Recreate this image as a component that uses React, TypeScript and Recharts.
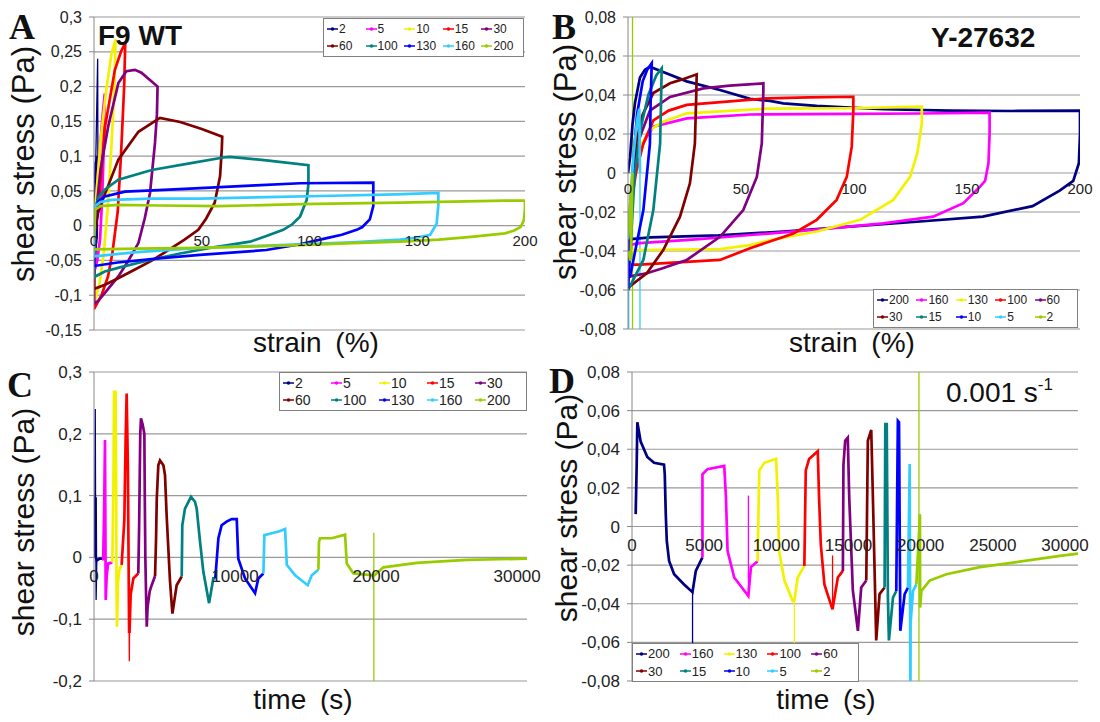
import React from 'react';
import { LineChart, Line, XAxis, YAxis, CartesianGrid, ReferenceDot, Legend } from 'recharts';

type P = [number, number][];

const FONT = '"Liberation Sans", Arial, sans-serif';
const SERIF = '"Liberation Serif", "Times New Roman", serif';

// ---------- Panel A (F9 WT, stress vs strain) ----------
const A_LABELS = ['2', '5', '10', '15', '30', '60', '100', '130', '160', '200'];
const A_COLORS = ['#000080', '#ff00ff', '#f2f200', '#ff0000', '#800080', '#800000', '#008080', '#0000ff', '#33ccff', '#99cc00'];
const A_YTICKS = [-0.15, -0.1, -0.05, 0, 0.05, 0.1, 0.15, 0.2, 0.25, 0.3];
const A_XTICKS = [0, 50, 100, 150, 200];
const A_S2: P = [[0, -0.002], [0.8, 0.09], [1.8, 0.1], [1.2, -0.02], [0, -0.003]];
const A_S5: P = [[0, -0.005], [1.5, 0.06], [3, 0.12], [4.2, 0.165], [5, 0.19], [4.6, 0.12], [3.8, 0.04], [2.8, -0.02], [1.5, -0.05], [0, -0.068], [0, -0.008]];
const A_S10: P = [[0, -0.008], [1, 0.04], [3, 0.12], [5.5, 0.19], [8, 0.245], [10, 0.268], [9.5, 0.2], [8.2, 0.12], [6.5, 0.03], [4.5, -0.04], [2.5, -0.085], [0, -0.112], [0, -0.012]];
const A_S15: P = [[0, -0.012], [2, 0.023], [5, 0.14], [9.7, 0.224], [12.5, 0.25], [14.5, 0.263], [14, 0.2], [12.5, 0.1], [11, 0.02], [8.5, -0.04], [6.5, -0.073], [3.5, -0.1], [0, -0.12], [0, -0.026]];
const A_S30: P = [[0, -0.026], [0.5, 0.004], [3, 0.08], [6.6, 0.143], [11.3, 0.205], [15, 0.222], [19, 0.224], [22, 0.22], [29.5, 0.2], [29.2, 0.16], [28.3, 0.119], [26, 0.047], [23.5, 0.01], [20.6, -0.025], [16, -0.05], [11.3, -0.073], [6, -0.093], [2, -0.108], [0, -0.112], [0, -0.03]];
const A_S60: P = [[0, -0.03], [0.5, -0.005], [2, 0.02], [5, 0.045], [11.3, 0.095], [20.6, 0.135], [30.6, 0.155], [40, 0.149], [50, 0.139], [59.5, 0.128], [59.3, 0.11], [58.5, 0.071], [56, 0.033], [52, 0.01], [48.4, -0.006], [42, -0.02], [34.5, -0.035], [27, -0.05], [19, -0.063], [11, -0.076], [5.1, -0.085], [0, -0.091], [0, -0.031]];
const A_S100: P = [[0, -0.031], [0.5, 0.023], [2, 0.04], [5.1, 0.052], [11.3, 0.066], [26.8, 0.08], [45, 0.09], [60, 0.098], [63, 0.099], [80, 0.094], [99.5, 0.087], [99.5, 0.06], [98.7, 0.037], [95.6, 0.013], [92, 0.002], [87.8, -0.006], [80, -0.015], [72.4, -0.023], [60, -0.029], [53.8, -0.032], [40, -0.04], [25, -0.05], [12, -0.06], [5, -0.066], [0, -0.074], [0, -0.034]];
const A_S130: P = [[0, -0.034], [0.5, 0.02], [2, 0.035], [5, 0.042], [14.4, 0.049], [30, 0.051], [49.2, 0.054], [75, 0.058], [95.6, 0.061], [129.6, 0.062], [129.6, 0.028], [128, 0.009], [124.5, -0.002], [121.9, -0.006], [115, -0.013], [108, -0.018], [95, -0.027], [80, -0.035], [49.2, -0.042], [30, -0.047], [11, -0.053], [0, -0.058], [0, -0.026]];
const A_S160: P = [[0, -0.026], [0.5, 0.028], [3, 0.034], [8.2, 0.037], [26.8, 0.039], [49.2, 0.039], [80, 0.041], [111, 0.043], [140, 0.045], [159.8, 0.047], [159.8, 0.03], [159, 0.003], [156, -0.013], [150, -0.017], [142, -0.02], [120, -0.024], [95.6, -0.027], [49, -0.032], [20, -0.038], [0, -0.044], [0, -0.02]];
const A_S200: P = [[0, -0.02], [0.5, 0.023], [3, 0.028], [11.3, 0.03], [30, 0.029], [57.7, 0.028], [95.6, 0.031], [142, 0.033], [190.7, 0.036], [200, 0.036], [200, 0.025], [199.5, 0.008], [198, -0.002], [195, -0.007], [190.7, -0.011], [175, -0.016], [160, -0.02], [142, -0.023], [120, -0.025], [95.6, -0.028], [49, -0.032], [20, -0.033], [0, -0.034]];
// sparse (thin) stretches of series "2"
const A_T2A: P = [[0.8, 0.09], [1.7, 0.24], [1.8, 0.1]];
const A_T2B: P = [[1.2, -0.02], [0.5, -0.069], [0, -0.003]];

// ---------- Panel B (Y-27632, stress vs strain) ----------
const B_LABELS = ['200', '160', '130', '100', '60', '30', '15', '10', '5', '2'];
const B_COLORS = ['#000080', '#ff00ff', '#f2f200', '#ff0000', '#800080', '#800000', '#008080', '#0000ff', '#33ccff', '#99cc00'];
const B_YTICKS = [-0.08, -0.06, -0.04, -0.02, 0, 0.02, 0.04, 0.06, 0.08];
const B_XTICKS = [0, 50, 100, 150, 200];
const B_S200: P = [[0, 0], [0.9, 0.008], [2, 0.025], [3.1, 0.036], [5.3, 0.049], [7.5, 0.053], [9.7, 0.0545], [15, 0.052], [26, 0.047], [40.7, 0.0426], [54, 0.038], [62.8, 0.037], [68.7, 0.0357], [83.5, 0.0344], [113, 0.0327], [142.5, 0.032], [170, 0.0318], [200, 0.032], [200, 0.02], [199.5, 0.005], [197, -0.004], [191, -0.009], [179, -0.017], [157, -0.0224], [127.7, -0.025], [98, -0.0275], [68.7, -0.03], [40, -0.032], [10, -0.033], [0, -0.034]];
const B_S160: P = [[0, -0.034], [1.5, -0.01], [3, 0], [5.5, 0.012], [8.3, 0.0186], [11.2, 0.0237], [26, 0.028], [54, 0.03], [98, 0.0303], [130, 0.0305], [160, 0.031], [160, 0.0203], [159.5, 0.005], [158, -0.004], [155.8, -0.007], [148.4, -0.0155], [135, -0.0224], [113, -0.0258], [83.5, -0.029], [54, -0.0318], [30, -0.034], [5.3, -0.036], [0, -0.037]];
const B_S130: P = [[0, -0.037], [1.5, -0.01], [3.5, 0.005], [6, 0.015], [9.7, 0.022], [15, 0.026], [26, 0.0306], [61.4, 0.033], [98, 0.0332], [130, 0.034], [130, 0.0255], [128, 0.01], [124.8, -0.002], [117.4, -0.0138], [102.7, -0.024], [83.5, -0.03], [62.8, -0.0344], [54, -0.037], [40.7, -0.039], [5.3, -0.0395], [0, -0.04]];
const B_S100: P = [[0, -0.04], [1.5, -0.015], [3.5, 0], [6.8, 0.0152], [11.2, 0.027], [18, 0.032], [26, 0.0349], [61.4, 0.0383], [80, 0.0388], [99.7, 0.0391], [99.7, 0.032], [99, 0.0135], [96.8, -0.002], [92.3, -0.0138], [83.5, -0.024], [73.2, -0.031], [54, -0.0386], [40.7, -0.0446], [20, -0.046], [5.3, -0.047], [0, -0.047]];
const B_S60: P = [[0, -0.047], [1.5, -0.01], [3.5, 0.008], [5.3, 0.0186], [9.7, 0.032], [18.6, 0.039], [33.3, 0.0434], [45, 0.0448], [59.9, 0.046], [59.9, 0.0426], [59.2, 0.0152], [57, -0.002], [51, -0.019], [40.7, -0.0327], [26, -0.0446], [15, -0.049], [8.3, -0.0514], [0.9, -0.053], [0, -0.054]];
const B_S30: P = [[0, -0.054], [1.5, -0.01], [3.5, 0.015], [6.5, 0.03], [11.2, 0.041], [18.6, 0.046], [24, 0.048], [30.4, 0.0506], [30.2, 0.04], [29.6, 0.0152], [27.4, -0.0053], [23, -0.0224], [15.6, -0.0395], [8.3, -0.0514], [0.9, -0.058], [0, -0.06]];
const B_S15: P = [[0, -0.06], [1.5, -0.03], [3, 0], [6, 0.025], [9, 0.04], [12.5, 0.05], [14.9, 0.0537], [14.5, 0.03], [14.2, 0.015], [11.2, -0.019], [6.8, -0.0446], [0.9, -0.058], [0, -0.059]];
const B_S10: P = [[0, -0.059], [1, -0.03], [2, 0], [4, 0.03], [6.5, 0.047], [8.5, 0.053], [10.5, 0.0563], [10, 0.035], [9.7, 0.015], [6.8, -0.019], [2.4, -0.0446], [0.9, -0.053], [0, -0.054]];
const B_S5: P = [[0, -0.034], [1, -0.015], [2.5, 0.01], [4, 0.027], [5, 0.033], [5.3, 0]];
const B_S2: P = [[0, -0.033], [0.7, -0.02], [1.5, -0.008], [2, 0], [1.2, -0.045], [0, -0.04]];
const B_T5A: P = [[5.3, 0], [5.3, -0.12]];
const B_T5B: P = [[0.3, -0.12], [0.3, -0.05], [0, -0.033]];
const B_T2: P = [[2, 0.12], [2, -0.12]];

// ---------- Panel C (F9 WT, stress vs time) ----------
const C_LABELS = ['2', '5', '10', '15', '30', '60', '100', '130', '160', '200'];
const C_COLORS = ['#000080', '#ff00ff', '#f2f200', '#ff0000', '#800080', '#800000', '#008080', '#0000ff', '#33ccff', '#99cc00'];
const C_YTICKS = [-0.2, -0.1, 0, 0.1, 0.2, 0.3];
const C_XTICKS = [0, 10000, 20000, 30000];
const C_S2: P = [[0, 0], [60, 0.095], [110, 0.095], [130, 0], [200, -0.005], [400, -0.002], [650, -0.002]];
const C_S5: P = [[650, -0.005], [720, 0.08], [780, 0.19], [805, 0.06], [830, -0.069], [900, -0.03], [1000, -0.01], [1300, -0.008]];
const C_S10: P = [[1300, -0.008], [1380, 0.12], [1420, 0.268], [1530, 0.268], [1570, 0.12], [1600, -0.05], [1630, -0.112], [1700, -0.04], [1800, -0.02], [1960, -0.012]];
const C_S15: P = [[1960, -0.012], [2150, 0.06], [2250, 0.2], [2315, 0.265], [2400, 0.15], [2450, 0], [2490, -0.12], [2520, -0.12], [2600, -0.06], [2790, -0.034], [3140, -0.026]];
const C_S30: P = [[3140, -0.026], [3200, 0.05], [3280, 0.2], [3330, 0.225], [3450, 0.215], [3570, 0.2], [3600, 0.1], [3640, 0], [3700, -0.07], [3740, -0.112], [3800, -0.08], [3950, -0.055], [4090, -0.045], [4330, -0.03]];
const C_S60: P = [[4330, -0.03], [4400, 0.03], [4450, 0.095], [4560, 0.149], [4680, 0.157], [4920, 0.149], [5035, 0.133], [5150, 0.068], [5390, -0.039], [5560, -0.091], [5860, -0.045], [6220, -0.031]];
const C_S100: P = [[6220, -0.031], [6260, 0.052], [6450, 0.079], [6880, 0.098], [7160, 0.09], [7280, 0.079], [7520, 0.025], [7750, -0.023], [8160, -0.074], [8460, -0.034], [8600, -0.034]];
const C_S130: P = [[8600, -0.034], [8820, 0.031], [9050, 0.052], [9400, 0.058], [9760, 0.062], [10120, 0.062], [10230, -0.002], [10710, -0.034], [11420, -0.058], [11650, -0.034], [12010, -0.026]];
const C_S160: P = [[12010, -0.026], [12080, 0.036], [12600, 0.039], [13100, 0.042], [13550, 0.046], [13670, -0.012], [14260, -0.029], [15150, -0.045], [15440, -0.029], [15910, -0.02]];
const C_S200: P = [[15910, -0.02], [15950, 0.025], [16030, 0.031], [16860, 0.031], [17680, 0.036], [17800, 0.037], [17920, -0.01], [18390, -0.026], [19810, -0.029], [19880, -0.029], [20520, -0.016], [22890, -0.009], [26430, -0.004], [30700, -0.002]];
const C_T2: P = [[60, 0.095], [90, 0.24], [110, 0.095], [150, -0.069], [200, -0.005]];
const C_T15: P = [[2490, -0.12], [2505, -0.168], [2520, -0.12]];
const C_T200: P = [[19840, 0.04], [19840, -0.25]];

// ---------- Panel D (Y-27632, stress vs time) ----------
const D_LABELS = ['200', '160', '130', '100', '60', '30', '15', '10', '5', '2'];
const D_COLORS = ['#000080', '#ff00ff', '#f2f200', '#ff0000', '#800080', '#800000', '#008080', '#0000ff', '#33ccff', '#99cc00'];
const D_YTICKS = [-0.08, -0.06, -0.04, -0.02, 0, 0.02, 0.04, 0.06, 0.08];
const D_XTICKS = [0, 5000, 10000, 15000, 20000, 25000, 30000];
const D_S200: P = [[255, 0.0064], [325, 0.032], [370, 0.054], [600, 0.044], [1060, 0.036], [1530, 0.033], [2220, 0.032], [2270, 0.027], [2340, 0.0064], [2410, -0.0075], [2570, -0.0178], [2920, -0.0247], [3610, -0.03], [4190, -0.034], [4420, -0.023], [4880, -0.016]];
const D_S160: P = [[4880, -0.016], [4880, 0.027], [5230, 0.0297], [6390, 0.0314], [6510, 0.015], [6620, -0.0126], [7080, -0.0264], [8060, -0.036], [8240, -0.021], [8700, -0.018]];
const D_S130: P = [[8700, -0.018], [8820, 0.029], [9170, 0.033], [9980, 0.035], [10100, 0.015], [10190, -0.0126], [10560, -0.028], [11130, -0.0385], [11260, -0.038], [11480, -0.0264], [11940, -0.0204]];
const D_S100: P = [[11940, -0.0204], [12040, 0.029], [12270, 0.035], [12870, 0.039], [12960, 0.015], [13080, -0.0092], [13330, -0.03], [13890, -0.0429], [14260, -0.0264], [14610, -0.023]];
const D_S60: P = [[14610, -0.023], [14650, 0.032], [14770, 0.0444], [14950, 0.046], [15050, 0.015], [15300, -0.033], [15650, -0.054], [15880, -0.0316], [16230, -0.028]];
const D_S30: P = [[16230, -0.028], [16340, 0.0444], [16575, 0.05], [16690, 0.015], [16920, -0.059], [17150, -0.035], [17500, -0.0316]];
const D_S15: P = [[17500, -0.0316], [17550, 0.053], [17650, 0.053], [17730, -0.0368], [17800, -0.059], [18080, -0.0368], [18310, -0.0334]];
const D_S10: P = [[18310, -0.0334], [18420, 0.0547], [18500, 0.054], [18590, -0.054], [18890, -0.035], [19120, -0.0316]];
const D_S5: P = [[19120, -0.0316], [19240, 0.0323], [19290, -0.1], [19300, -0.05], [19470, -0.0334], [19700, -0.03]];
const D_S2: P = [[19700, -0.03], [19950, 0.0064], [19960, -0.042], [20050, -0.0334], [20620, -0.028], [21780, -0.0247], [24100, -0.021], [26410, -0.0187], [29650, -0.0152], [30900, -0.014]];
const D_T200: P = [[4195, -0.034], [4195, -0.1]];
const D_T160: P = [[8065, -0.036], [8065, 0.016]];
const D_T130: P = [[11250, -0.0385], [11250, -0.1]];
const D_T100: P = [[13895, -0.042], [13895, -0.015]];
const D_T2: P = [[19880, 0.1], [19880, -0.1]];

const A_SERIES = [A_S2, A_S5, A_S10, A_S15, A_S30, A_S60, A_S100, A_S130, A_S160, A_S200];
const B_SERIES = [B_S200, B_S160, B_S130, B_S100, B_S60, B_S30, B_S15, B_S10, B_S5, B_S2];
const C_SERIES = [C_S2, C_S5, C_S10, C_S15, C_S30, C_S60, C_S100, C_S130, C_S160, C_S200];
const D_SERIES = [D_S200, D_S160, D_S130, D_S100, D_S60, D_S30, D_S15, D_S10, D_S5, D_S2];

const toPts = (s: P) => s.map(([x, y]) => ({ x, y }));
const fmtY = (v: number) => (v === 0 ? '0' : String(v).replace('.', ','));

function LegendContent(props: any) {
  const { payload, fontSize, order } = props;
  const items = [...(payload || [])]
    .filter((p: any) => order.indexOf(String(p.value)) >= 0)
    .sort((a: any, b: any) => order.indexOf(String(a.value)) - order.indexOf(String(b.value)));
  return (
    <div
      style={{
        width: '100%', height: '100%', boxSizing: 'border-box', border: '1px solid #808080', background: '#fff',
        display: 'grid', gridTemplateColumns: 'repeat(5, 1fr)', gridTemplateRows: 'repeat(2, 1fr)',
        padding: '1px 3px', fontFamily: FONT, fontSize, color: '#222', lineHeight: 1,
      }}
    >
      {items.map((p: any, i: number) => (
        <div key={i} style={{ display: 'flex', alignItems: 'center', whiteSpace: 'nowrap' }}>
          <svg width={11} height={8} style={{ flex: 'none' }}>
            <line x1={0} y1={4} x2={11} y2={4} stroke={p.color} strokeWidth={1.5} />
            <circle cx={5.5} cy={4} r={1.8} fill={p.color} />
          </svg>
          <span style={{ marginLeft: 1 }}>{p.value}</span>
        </div>
      ))}
    </div>
  );
}

function Panel(props: any) {
  const { pos, size, margin, xDomain, xTicks, xTickFont, xTickOffset, yDomain, yTicks, yTickFont, labels, colors, series, thin, legend } = props;
  return (
    <div style={{ position: 'absolute', left: pos[0], top: pos[1] }}>
      <LineChart width={size[0]} height={size[1]} margin={margin}>
        <CartesianGrid horizontal vertical={false} stroke="#9a9a9a" strokeWidth={1.2} />
        <XAxis type="number" dataKey="x" domain={xDomain} hide allowDataOverflow />
        <YAxis
          type="number"
          domain={yDomain}
          ticks={yTicks}
          interval={0}
          allowDataOverflow
          width={60}
          tickFormatter={fmtY}
          tick={{ fill: '#222', fontSize: yTickFont, fontFamily: FONT }}
          tickSize={5}
          tickMargin={7}
          axisLine={{ stroke: '#888' }}
          tickLine={{ stroke: '#888' }}
        />
        {thin.map((t: any, i: number) => (
          <Line
            key={'thin' + i}
            data={toPts(t.data)}
            dataKey="y"
            type="linear"
            stroke={colors[labels.indexOf(t.of)]}
            strokeWidth={1.3}
            dot={false}
            legendType="none"
            isAnimationActive={false}
          />
        ))}
        {series.map((s: P, i: number) => (
          <Line
            key={labels[i]}
            data={toPts(s)}
            dataKey="y"
            name={labels[i]}
            type="linear"
            stroke={colors[i]}
            strokeWidth={2.7}
            dot={false}
            legendType="line"
            isAnimationActive={false}
          />
        ))}
        {xTicks.map((t: number) => (
          <ReferenceDot
            key={'xt' + t}
            x={t}
            y={0}
            r={0}
            fill="none"
            stroke="none"
            label={{ value: String(t), position: 'bottom', offset: xTickOffset, fill: '#222', fontSize: xTickFont, fontFamily: FONT }}
          />
        ))}
        <Legend
          layout="horizontal"
          verticalAlign="middle"
          align="center"
          itemSorter={(item: any) => labels.indexOf(String(item.value))}
          wrapperStyle={{ left: legend.left, top: legend.top, width: legend.width, height: legend.height, bottom: 'auto', right: 'auto' }}
          content={<LegendContent fontSize={legend.font} order={labels} />}
        />
      </LineChart>
    </div>
  );
}

export default function App() {
  const yTitle = 'shear stress (Pa)';
  return (
    <div style={{ position: 'absolute', left: 0, top: 0, width: 1100, height: 722, background: '#fff', overflow: 'hidden' }}>
      <Panel
        pos={[0, 0]} size={[550, 360]} margin={{ top: 17, right: 25, bottom: 30, left: 34 }}
        xDomain={[0, 200]} xTicks={A_XTICKS} xTickFont={15} xTickOffset={10}
        yDomain={[-0.15, 0.3]} yTicks={A_YTICKS} yTickFont={16}
        labels={A_LABELS} colors={A_COLORS} series={A_SERIES}
        thin={[{ of: '2', data: A_T2A }, { of: '2', data: A_T2B }]}
        legend={{ left: 323, top: 18, width: 201, height: 39, font: 12 }}
      />
      <Panel
        pos={[550, 0]} size={[550, 360]} margin={{ top: 17, right: 20, bottom: 31, left: 18 }}
        xDomain={[0, 200]} xTicks={B_XTICKS} xTickFont={15} xTickOffset={10}
        yDomain={[-0.08, 0.08]} yTicks={B_YTICKS} yTickFont={16}
        labels={B_LABELS} colors={B_COLORS} series={B_SERIES}
        thin={[{ of: '5', data: B_T5A }, { of: '5', data: B_T5B }, { of: '2', data: B_T2 }]}
        legend={{ left: 323, top: 289, width: 205, height: 39, font: 12 }}
      />
      <Panel
        pos={[0, 360]} size={[550, 362]} margin={{ top: 12, right: 23, bottom: 41, left: 34 }}
        xDomain={[0, 30700]} xTicks={C_XTICKS} xTickFont={17} xTickOffset={13}
        yDomain={[-0.2, 0.3]} yTicks={C_YTICKS} yTickFont={17}
        labels={C_LABELS} colors={C_COLORS} series={C_SERIES}
        thin={[{ of: '2', data: C_T2 }, { of: '15', data: C_T15 }, { of: '200', data: C_T200 }]}
        legend={{ left: 279, top: 12, width: 248, height: 39, font: 14 }}
      />
      <Panel
        pos={[550, 360]} size={[550, 362]} margin={{ top: 12, right: 22, bottom: 41, left: 22 }}
        xDomain={[0, 30900]} xTicks={D_XTICKS} xTickFont={17} xTickOffset={12}
        yDomain={[-0.08, 0.08]} yTicks={D_YTICKS} yTickFont={17}
        labels={D_LABELS} colors={D_COLORS} series={D_SERIES}
        thin={[{ of: '200', data: D_T200 }, { of: '160', data: D_T160 }, { of: '130', data: D_T130 }, { of: '100', data: D_T100 }, { of: '2', data: D_T2 }]}
        legend={{ left: 82, top: 283, width: 227, height: 39, font: 13 }}
      />
      <svg width={1100} height={722} style={{ position: 'absolute', left: 0, top: 0, pointerEvents: 'none' }}>
        <g fontFamily={SERIF} fontWeight="bold" fontSize={36} fill="#111">
          <text x={9} y={39}>A</text>
          <text x={552} y={39}>B</text>
          <text x={7} y={397}>C</text>
          <text x={549} y={393}>D</text>
        </g>
        <g fontFamily={FONT} fill="#111">
          <text x={98} y={45} fontSize={28} fontWeight="bold">F9 WT</text>
          <text x={931} y={47} fontSize={28} fontWeight="bold">Y-27632</text>
          <text x={946} y={402} fontSize={28}>
            0.001 s<tspan fontSize={17} dy={-12}>-1</tspan>
          </text>
          <text x={34} y={164} fontSize={31} textAnchor="middle" transform="rotate(-90 34 164)">{yTitle}</text>
          <text x={576} y={162} fontSize={31} textAnchor="middle" transform="rotate(-90 576 162)">{yTitle}</text>
          <text x={34} y={522} fontSize={30} textAnchor="middle" transform="rotate(-90 34 522)">{yTitle}</text>
          <text x={577} y={508} fontSize={30} textAnchor="middle" transform="rotate(-90 577 508)">{yTitle}</text>
          <text x={316} y={352} fontSize={28} textAnchor="middle" style={{ wordSpacing: 6 }}>strain (%)</text>
          <text x={852} y={352} fontSize={28} textAnchor="middle" style={{ wordSpacing: 6 }}>strain (%)</text>
          <text x={303} y={709} fontSize={28} textAnchor="middle" style={{ wordSpacing: 6 }}>time (s)</text>
          <text x={826} y={709} fontSize={28} textAnchor="middle" style={{ wordSpacing: 6 }}>time (s)</text>
        </g>
      </svg>
    </div>
  );
}
